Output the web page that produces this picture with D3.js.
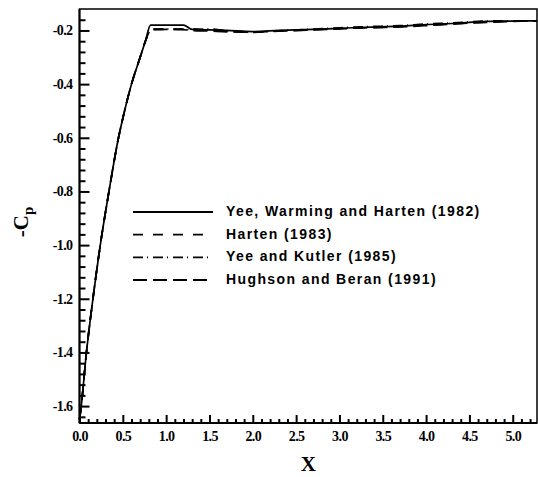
<!DOCTYPE html>
<html>
<head>
<meta charset="utf-8">
<style>
    body { margin: 0; background: #fff; }
    svg { display: block; }
    .axis .domain { display: none; }
    .axis .tick line { stroke: #000; stroke-width: 2px; }
    .axis .tick text {
        font-family: 'Liberation Serif', 'Times New Roman', serif;
        font-weight: bold;
        font-size: 14px;
        letter-spacing: -0.6px;
        fill: #000;
    }
    .legend text {
        font-family: 'Liberation Sans', Arial, sans-serif;
        font-weight: bold;
        font-size: 14px;
        letter-spacing: 1.4px;
        fill: #000;
    }
    .title {
        font-family: 'Liberation Serif', 'Times New Roman', serif;
        font-weight: bold;
        fill: #000;
    }
</style>
</head>
<body>
<svg width="538" height="477"></svg>
<script src="https://d3js.org/d3.v7.min.js"></script>
<script>
    // data
    let xs = [0.0, 0.02, 0.08, 0.155, 0.24, 0.34, 0.45, 0.52, 0.6, 0.7, 0.76, 0.82, 0.86, 1.0, 1.2, 1.3, 1.5, 1.7, 2.0, 2.3, 2.7, 3.0, 3.3, 3.7, 4.0, 4.3, 4.7, 5.0, 5.28]

    let ywh = [-1.65, -1.6, -1.4, -1.2, -1.0, -0.8, -0.6, -0.5, -0.4, -0.3, -0.24, -0.18, -0.18, -0.18, -0.18, -0.196, -0.198, -0.2, -0.204, -0.2, -0.196, -0.192, -0.188, -0.184, -0.178, -0.174, -0.166, -0.165, -0.164]
    let harten = [-1.65, -1.6, -1.4, -1.2, -1.0, -0.8, -0.6, -0.5, -0.4, -0.3, -0.24, -0.2, -0.196, -0.196, -0.195, -0.194, -0.2, -0.2, -0.206, -0.202, -0.197, -0.193, -0.19, -0.186, -0.18, -0.176, -0.168, -0.165, -0.164]
    let yeeKutler = [-1.65, -1.6, -1.4, -1.2, -1.0, -0.8, -0.6, -0.5, -0.4, -0.3, -0.24, -0.2, -0.195, -0.195, -0.196, -0.198, -0.194, -0.202, -0.207, -0.201, -0.195, -0.19, -0.186, -0.182, -0.176, -0.172, -0.165, -0.164, -0.164]
    let hughson = [-1.65, -1.6, -1.4, -1.2, -1.0, -0.8, -0.6, -0.5, -0.4, -0.3, -0.24, -0.2, -0.197, -0.196, -0.197, -0.2, -0.202, -0.205, -0.206, -0.203, -0.198, -0.194, -0.19, -0.187, -0.182, -0.176, -0.17, -0.166, -0.164]

    let seriesNames = ["Yee, Warming and Harten (1982)", "Harten (1983)", "Yee and Kutler (1985)", "Hughson and Beran (1991)"]
    let seriesValues = [ywh, harten, yeeKutler, hughson]
    let dashes = ["none", "10,10", "10,4,1,5", "14,6"]

    let xTicks = [0, 0.5, 1, 1.5, 2, 2.5, 3, 3.5, 4, 4.5, 5]
    let yTicks = [-1.6, -1.4, -1.2, -1.0, -0.8, -0.6, -0.4, -0.2]

    let svg = d3.select("svg")

    let margin = { top: 9, right: 1, bottom: 54, left: 79.5 }
    let width = 538, height = 477

    let x = d3.scaleLinear()
        .domain([0, 5.28])
        .range([margin.left, width - margin.right])

    let y = d3.scaleLinear()
        .domain([-1.663, -0.12])
        .range([height - margin.bottom, margin.top])

    // plain hyphen for negatives, like the original
    let fmt = d => d.toFixed(1)

    // minor ticks
    let xMinor = d3.range(0, 5.28, 0.1).filter(v => Math.abs(v * 2 - Math.round(v * 2)) > 1e-6)
    let yMinor = d3.range(-1.64, -0.12, 0.04).filter(v => Math.abs(v * 5 - Math.round(v * 5)) > 1e-6)

    svg.append("g")
        .attr("class", "x axis")
        .attr("transform", `translate(0,${height - margin.bottom})`)
        .call(d3.axisBottom(x).tickValues(xMinor).tickSize(-4).tickFormat(""))

    svg.append("g")
        .attr("class", "x axis")
        .attr("transform", `translate(0,${height - margin.bottom})`)
        .call(d3.axisBottom(x).tickValues(xTicks).tickSize(-8).tickPadding(8).tickFormat(fmt))

    svg.append("g")
        .attr("class", "y axis")
        .attr("transform", `translate(${margin.left},0)`)
        .call(d3.axisLeft(y).tickValues(yMinor).tickSize(-6).tickFormat(""))

    svg.append("g")
        .attr("class", "y axis")
        .attr("transform", `translate(${margin.left},0)`)
        .call(d3.axisLeft(y).tickValues(yTicks).tickSize(-10).tickPadding(7).tickFormat(fmt))

    // frame
    svg.append("rect")
        .attr("x", margin.left)
        .attr("y", margin.top)
        .attr("width", width - margin.right - margin.left)
        .attr("height", height - margin.bottom - margin.top)
        .style("fill", "none")
        .style("stroke", "#000")
        .style("stroke-width", "1.5px")

    svg.append("line")
        .attr("x1", margin.left).attr("x2", margin.left)
        .attr("y1", margin.top).attr("y2", height - margin.bottom)
        .style("stroke", "#000").style("stroke-width", "2px")
    svg.append("line")
        .attr("x1", margin.left).attr("x2", width - margin.right)
        .attr("y1", height - margin.bottom).attr("y2", height - margin.bottom)
        .style("stroke", "#000").style("stroke-width", "2px")

    let line = d3.line()
        .curve(d3.curveMonotoneX)
        .x((d, i) => x(xs[i]))
        .y(d => y(d))

    svg.append("g")
        .selectAll("path")
        .data(seriesValues)
        .join("path")
        .attr("d", d => line(d))
        .style("fill", "none")
        .style("stroke", "#000")
        .style("stroke-width", "1.7px")
        .style("stroke-dasharray", (d, i) => dashes[i])

    // legend
    let legend = svg.append("g").attr("class", "legend")
    let rowY = d3.scalePoint().domain(seriesNames).range([212, 280])

    legend.selectAll("line")
        .data(seriesNames)
        .join("line")
        .attr("x1", 133).attr("x2", 213)
        .attr("y1", d => rowY(d)).attr("y2", d => rowY(d))
        .style("stroke", "#000")
        .style("stroke-width", "1.8px")
        .style("stroke-dasharray", (d, i) => dashes[i])

    legend.selectAll("text")
        .data(seriesNames)
        .join("text")
        .attr("x", 226)
        .attr("y", d => rowY(d) + 4)
        .text(d => d)

    // axis titles
    svg.append("text")
        .attr("class", "title")
        .attr("x", (margin.left + width - margin.right) / 2)
        .attr("y", 471)
        .attr("text-anchor", "middle")
        .style("font-size", "21px")
        .text("X")

    let yTitle = svg.append("text")
        .attr("class", "title")
        .attr("transform", "translate(28,222) rotate(-90)")
        .attr("text-anchor", "middle")
        .style("font-size", "21px")
    yTitle.append("tspan").text("-C")
    yTitle.append("tspan").attr("dy", 5).style("font-size", "15px").text("p")
</script>
</body>
</html>
